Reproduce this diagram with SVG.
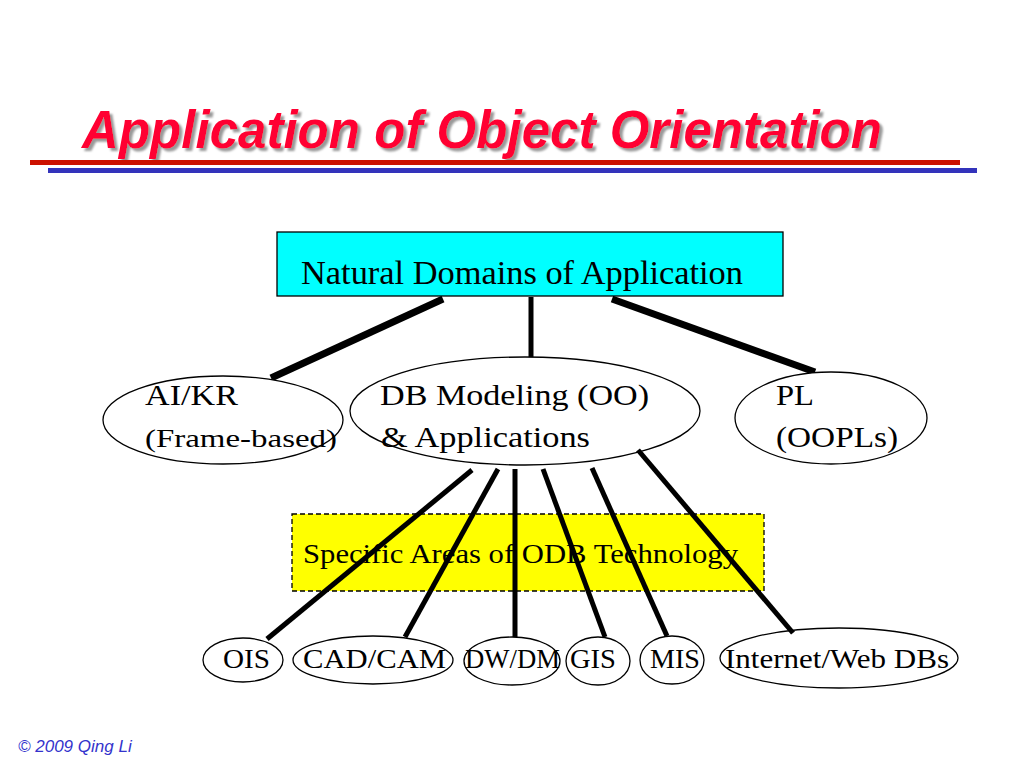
<svg xmlns="http://www.w3.org/2000/svg" width="1024" height="768" viewBox="0 0 1024 768">
<defs>
<filter id="shadow" x="-5%" y="-20%" width="110%" height="150%">
<feDropShadow dx="3" dy="3" stdDeviation="0.8" flood-color="#999" flood-opacity="1"/>
</filter>
</defs>
<style>
.title{font-family:"Liberation Sans",Arial,sans-serif;font-weight:bold;font-style:italic;font-size:53px}
.t{font-family:"Liberation Serif","Times New Roman",serif;fill:#000}
.node{fill:#fff;stroke:#000;stroke-width:1.3}
.conn{stroke:#000;fill:none;stroke-linecap:butt}
.foot{font-family:"Liberation Sans",Arial,sans-serif;font-style:italic;font-size:17px;fill:#3333cc}
</style>
<rect width="1024" height="768" fill="#fff"/>
<g id="title">
<text class="title" x="82" y="148" fill="#ff0033" filter="url(#shadow)" textLength="800" lengthAdjust="spacingAndGlyphs">Application of Object Orientation</text>
<rect x="30" y="160" width="930" height="5" fill="#cc1100"/>
<rect x="48" y="168" width="929" height="5" fill="#3333bb"/>
</g>
<g id="connectors">
<line class="conn" x1="443" y1="299" x2="271" y2="378" stroke-width="7"/>
<line class="conn" x1="531" y1="297" x2="531" y2="358" stroke-width="5"/>
<line class="conn" x1="612" y1="299" x2="815" y2="372" stroke-width="7"/>
</g>
<g id="n-natural">
<rect x="277" y="232" width="506" height="64" fill="#00ffff" stroke="#000" stroke-width="1.3"/>
<text class="t" x="301" y="284" font-size="33" textLength="442" lengthAdjust="spacingAndGlyphs">Natural Domains of Application</text>
</g>
<g id="n-aikr">
<ellipse class="node" cx="223" cy="420" rx="120" ry="44"/>
<text class="t" x="145" y="405" font-size="29" textLength="93" lengthAdjust="spacingAndGlyphs">AI/KR</text>
<text class="t" x="145" y="447" font-size="26" textLength="192" lengthAdjust="spacingAndGlyphs">(Frame-based)</text>
</g>
<g id="n-db">
<ellipse class="node" cx="525" cy="411" rx="175" ry="54"/>
<text class="t" x="380" y="405" font-size="30" textLength="269" lengthAdjust="spacingAndGlyphs">DB Modeling (OO)</text>
<text class="t" x="381" y="447" font-size="30" textLength="209" lengthAdjust="spacingAndGlyphs">&amp; Applications</text>
</g>
<g id="n-pl">
<ellipse class="node" cx="831" cy="418" rx="96" ry="46"/>
<text class="t" x="776" y="405" font-size="30" textLength="38" lengthAdjust="spacingAndGlyphs">PL</text>
<text class="t" x="776" y="447" font-size="30" textLength="122" lengthAdjust="spacingAndGlyphs">(OOPLs)</text>
</g>
<g id="n-specific">
<rect x="292" y="514" width="472" height="77" fill="#ffff00" stroke="#000" stroke-width="1.3" stroke-dasharray="5,3"/>
<text class="t" x="303" y="563" font-size="27" textLength="435" lengthAdjust="spacingAndGlyphs">Specific Areas of ODB Technology</text>
</g>
<g id="n-ois">
<ellipse class="node" cx="243" cy="660" rx="40" ry="22"/>
<text class="t" x="223" y="668" font-size="27" textLength="47" lengthAdjust="spacingAndGlyphs">OIS</text>
</g>
<g id="n-cad">
<ellipse class="node" cx="373" cy="660" rx="80" ry="24"/>
<text class="t" x="303" y="668" font-size="27" textLength="143" lengthAdjust="spacingAndGlyphs">CAD/CAM</text>
</g>
<g id="n-dw">
<ellipse class="node" cx="512" cy="661" rx="48" ry="24"/>
<text class="t" x="465" y="668" font-size="27" textLength="95" lengthAdjust="spacingAndGlyphs">DW/DM</text>
</g>
<g id="n-gis">
<ellipse class="node" cx="598" cy="661" rx="32" ry="24" fill="none"/>
<text class="t" x="570" y="668" font-size="27" textLength="46" lengthAdjust="spacingAndGlyphs">GIS</text>
</g>
<g id="n-mis">
<ellipse class="node" cx="672" cy="660" rx="32" ry="24"/>
<text class="t" x="650" y="668" font-size="27" textLength="50" lengthAdjust="spacingAndGlyphs">MIS</text>
</g>
<g id="n-internet">
<ellipse class="node" cx="839" cy="658" rx="119" ry="30"/>
<text class="t" x="725" y="668" font-size="27" textLength="224" lengthAdjust="spacingAndGlyphs">Internet/Web DBs</text>
</g>
<g id="connectors-lower">
<line class="conn" x1="472" y1="470" x2="267" y2="639" stroke-width="5"/>
<line class="conn" x1="498" y1="469" x2="405" y2="637" stroke-width="5"/>
<line class="conn" x1="515" y1="469" x2="515" y2="637" stroke-width="5"/>
<line class="conn" x1="543" y1="469" x2="605" y2="637" stroke-width="5"/>
<line class="conn" x1="592" y1="468" x2="667" y2="636" stroke-width="5"/>
<line class="conn" x1="638" y1="450" x2="793" y2="633" stroke-width="5"/>
</g>
<g id="footer">
<text class="foot" x="18" y="752">© 2009  Qing Li</text>
</g>
</svg>
